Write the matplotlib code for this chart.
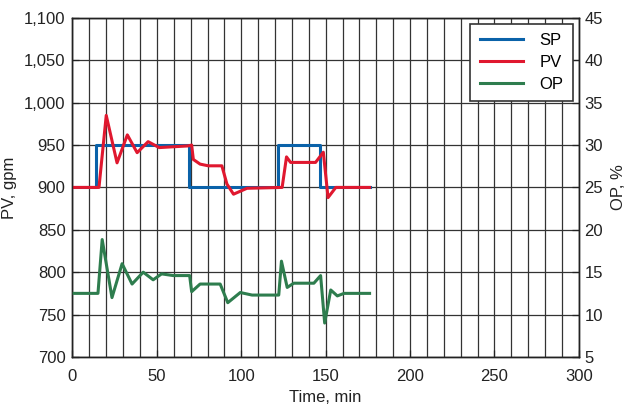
import matplotlib
matplotlib.use("Agg")
import matplotlib.pyplot as plt
from matplotlib.ticker import FuncFormatter, MultipleLocator

plt.rcParams['font.family'] = ['Liberation Sans', 'DejaVu Sans']

# set point, gpm (step changes)
sp_t = [1, 14, 14, 69, 69, 122, 122, 146.5, 146.5, 176]
sp_v = [900, 900, 950, 950, 900, 900, 950, 950, 900, 900]

# process variable, gpm
pv_t = [1, 15.7, 20, 26.4, 32.5, 38.3, 44.8, 51.4, 68.6, 70.6, 71.6, 75.6, 80.5, 88.5,
        91.5, 95.4, 103.4, 124.2, 126.8, 129.2, 144, 148.6, 151.4, 156, 176]
pv_v = [900, 900, 985, 929, 962, 941, 954, 947, 949, 950, 933, 927.5, 925.5, 925.5,
        904, 892, 899, 900, 936, 929.5, 929.5, 941.5, 888, 900, 900]

# controller output, %
op_t = [1, 15.1, 17.6, 23.4, 29.4, 35.3, 41.9, 47.8, 52.8, 59.7, 69.4, 70.6, 75.6, 87.5,
        92, 99.4, 106.4, 122.2, 123.8, 127.2, 131.1, 143, 147, 149.4, 153, 156.9, 160.9, 176]
op_v = [12.5, 12.5, 18.85, 12.0, 16.0, 13.6, 15.0, 14.1, 14.8, 14.6, 14.6, 12.7, 13.6, 13.6,
        11.4, 12.6, 12.3, 12.3, 16.3, 13.2, 13.7, 13.7, 14.6, 9.0, 12.9, 12.2, 12.5, 12.5]

c_sp = '#0a62a9'
c_pv = '#e0182f'
c_op = '#2e7d4e'
fs = 12
txt = '#222222'

fig = plt.figure(figsize=(6.33, 4.07), dpi=100)
ax = fig.add_axes([0.1145, 0.123, 0.80, 0.833])
ax2 = ax.twinx()

l1, = ax.plot(sp_t, sp_v, color=c_sp, lw=2.2, label='SP', zorder=3)
l2, = ax.plot(pv_t, pv_v, color=c_pv, lw=2.2, label='PV', zorder=4)
l3, = ax2.plot(op_t, op_v, color=c_op, lw=2.2, label='OP', zorder=3)

ax.set_xlim(0, 300)
ax.set_ylim(700, 1100)
ax2.set_ylim(5, 45)

ax.xaxis.set_major_locator(MultipleLocator(50))
ax.xaxis.set_minor_locator(MultipleLocator(10))
ax.yaxis.set_major_locator(MultipleLocator(50))
ax2.yaxis.set_major_locator(MultipleLocator(5))
ax.yaxis.set_major_formatter(FuncFormatter(lambda v, p: '{:,.0f}'.format(v)))

ax.grid(True, which='both', axis='x', color='#333333', lw=0.9)
ax.grid(True, which='major', axis='y', color='#333333', lw=0.9)
ax.set_axisbelow(True)

for a in (ax, ax2):
    a.tick_params(direction='in', labelsize=fs, length=5, width=0.9,
                  colors=txt, pad=5)
    a.tick_params(which='minor', length=0)
    for s in a.spines.values():
        s.set_color('#222222')
        s.set_linewidth(1.0)
ax.tick_params(axis='x', pad=9)
ax2.tick_params(axis='y', pad=4)

ax.set_xlabel('Time, min', fontsize=fs, color=txt, labelpad=4)
ax.set_ylabel('PV, gpm', fontsize=fs, color=txt, labelpad=5)
ax2.set_ylabel('OP, %', fontsize=fs, color=txt, labelpad=6)

lg = ax2.legend([l1, l2, l3], ['SP', 'PV', 'OP'], loc='upper right', fontsize=fs,
                fancybox=False, edgecolor='#333333', framealpha=1,
                borderaxespad=0, handlelength=2.6, handletextpad=1.0,
                labelspacing=0.4, borderpad=0.55,
                bbox_to_anchor=(0.988, 0.982))
lg.get_frame().set_linewidth(1.2)

fig.savefig('out.png', dpi=100)
